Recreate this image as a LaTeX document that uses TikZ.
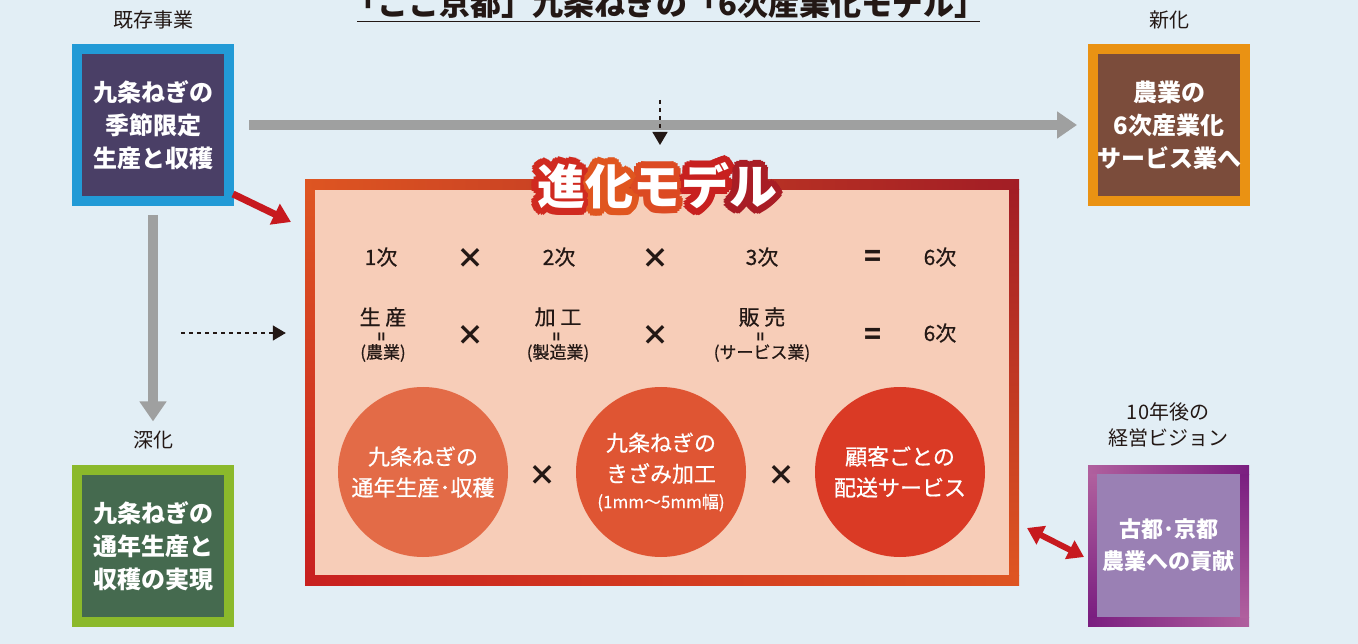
\documentclass[tikz,border=0pt]{standalone}
\usepackage{fontspec}
\setmainfont{Noto Sans CJK JP}
\newfontfamily\jpmed{Noto Sans CJK JP}[FakeBold=0.6]
\usetikzlibrary{arrows.meta, positioning}

\definecolor{bgblue}{HTML}{E2EEF5}
\definecolor{txtdark}{HTML}{231815}
\definecolor{arrowgray}{HTML}{9FA0A0}
\definecolor{arrowred}{HTML}{C7191F}
\definecolor{existout}{HTML}{229AD6}
\definecolor{existin}{HTML}{4A3F66}
\definecolor{newout}{HTML}{EA9213}
\definecolor{newin}{HTML}{7B4C3B}
\definecolor{deepout}{HTML}{8BB92B}
\definecolor{deepin}{HTML}{456A4F}
\definecolor{visionin}{HTML}{9A80B4}
\definecolor{vispink}{HTML}{B0609E}
\definecolor{visdark}{HTML}{7A1E80}
\definecolor{modelin}{HTML}{F7CDB8}
\definecolor{frameor}{HTML}{DE5522}
\definecolor{framered}{HTML}{C8201F}
\definecolor{framedr}{HTML}{A21D25}
\definecolor{circA}{HTML}{E36B47}
\definecolor{circB}{HTML}{DF5533}
\definecolor{circC}{HTML}{DA3A25}
\definecolor{evoA}{HTML}{D02A20}
\definecolor{evoB}{HTML}{E0561F}
\definecolor{evoC}{HTML}{DC4A22}
\definecolor{evoD}{HTML}{C8201F}
\definecolor{evoE}{HTML}{A81D25}

\begin{document}
\begin{tikzpicture}[
    x=1pt, y=-1pt,
    >=Triangle,
    lbl/.style={font=\fontsize{20}{26}\selectfont, text=txtdark, align=center},
    bizbox/.style={minimum width=152pt, minimum height=152pt, line width=10pt,
                   inner sep=0pt, align=center, text=white,
                   font=\bfseries\fontsize{24}{33}\selectfont},
    rowtxt/.style={font=\jpmed\fontsize{21}{24}\selectfont, text=txtdark},
    subtxt/.style={font=\jpmed\fontsize{17}{20}\selectfont, text=txtdark},
    eqbar/.style={font=\bfseries\fontsize{15}{15}\selectfont, text=txtdark, rotate=90, inner sep=0pt},
    timesym/.style={font=\bfseries\fontsize{28}{28}\selectfont, text=txtdark},
    circ/.style={circle, minimum size=170pt, inner sep=0pt, align=center, text=white,
                 font=\jpmed\fontsize{22}{31}\selectfont},
    evotxt/.style={font=\bfseries\fontsize{48}{48}\selectfont},
    grayarrow/.style={->, arrowgray, line width=9.5pt,
                      >={Triangle[width=26pt, length=20pt]}},
    redarrow/.style={->, arrowred, line width=7pt,
                     >={Triangle[width=22pt, length=18pt]}},
    dasharrow/.style={->, txtdark, line width=1.3pt, dash pattern=on 4pt off 4pt,
                      >={Triangle[width=15pt, length=13pt]}}
  ]
  \useasboundingbox (0,0) rectangle (1358,644);
  \fill[bgblue] (0,0) rectangle (1358,644);
  \clip (0,0) rectangle (1358,644);

  % Title (cut at the top edge)
  \node[font=\bfseries\fontsize{31}{31}\selectfont, text=txtdark, anchor=base,
        inner sep=0pt] (maintitle) at (666,16) {「ここ京都」九条ねぎの「6次産業化モデル」};
  \draw[line width=1.5pt, txtdark] (357,21.5) -- (980,21.5);

  % Existing business
  \node[lbl] (existlbl) at (153,20) {既存事業};
  \node[bizbox, draw=existout, fill=existin] (exist) at (153,125)
    {九条ねぎの\\季節限定\\生産と収穫};

  % New business
  \node[lbl] (newlbl) at (1169,20) {新化};
  \node[bizbox, draw=newout, fill=newin] (newbiz) at (1169,125)
    {農業の\\6次産業化\\サービス業へ};

  % Deepening
  \node[lbl] (deeplbl) at (153,440) {深化};
  \node[bizbox, draw=deepout, fill=deepin] (deep) at (153,546)
    {九条ねぎの\\通年生産と\\収穫の実現};

  % Vision (gradient frame)
  \node[lbl] (visionlbl) at (1168,425) {10年後の\\経営ビジョン};
  \shade[left color=vispink, right color=visdark] (1088,465) rectangle (1249,474);
  \shade[left color=visdark, right color=vispink] (1088,617) rectangle (1249,626);
  \shade[top color=vispink, bottom color=visdark] (1088,474) rectangle (1097,617);
  \shade[top color=visdark, bottom color=vispink] (1240,474) rectangle (1249,617);
  \node[minimum width=143pt, minimum height=143pt, inner sep=0pt, fill=visionin,
        align=center, text=white, font=\bfseries\fontsize{22}{32}\selectfont]
    (vision) at (1168.5,545.5) {古都･京都\\農業への貢献};

  % Evolution model frame
  \shade[left color=frameor, middle color=framered, right color=framedr] (305,180) rectangle (1019,190);
  \shade[top color=framedr, middle color=framered, bottom color=frameor] (1009,190) rectangle (1019,575);
  \shade[left color=framered, right color=frameor] (305,575) rectangle (1019,585);
  \shade[top color=frameor, bottom color=framered] (305,190) rectangle (315,575);
  \node[minimum width=694pt, minimum height=385pt, inner sep=0pt, fill=modelin]
    (model) at (662,382.5) {};

  % Model title with outline
  \foreach \r in {7,4.5,2} {
    \foreach \a in {0,22.5,...,337.5} {
      \node[evotxt, shift={(\a:\r)}] at (657,186)
        {\color{evoA}進\color{evoB}化\color{evoC}モ\color{evoD}デ\color{evoE}ル};
    }
  }
  \node[evotxt, text=white] (evo) at (657,186) {進化モデル};

  % Row 1
  \node[rowtxt] (r1a) at (381,257) {1次};
  \node[timesym] (r1x1) at (470,258) {×};
  \node[rowtxt] (r1b) at (559,257) {2次};
  \node[timesym] (r1x2) at (655,258) {×};
  \node[rowtxt] (r1c) at (762,257) {3次};
  \node[timesym] (r1eq) at (873,258) {=};
  \node[rowtxt] (r1d) at (940,257) {6次};

  % Row 2
  \node[rowtxt] (r2a) at (383,317) {生 産};
  \node[eqbar] at (383,337) {=};
  \node[subtxt] (r2asub) at (383,353) {(農業)};
  \node[timesym] (r2x1) at (470,335) {×};
  \node[rowtxt] (r2b) at (558,317) {加 工};
  \node[eqbar] at (558,337) {=};
  \node[subtxt] (r2bsub) at (558,353) {(製造業)};
  \node[timesym] (r2x2) at (655,335) {×};
  \node[rowtxt] (r2c) at (762,317) {販 売};
  \node[eqbar] at (762,337) {=};
  \node[subtxt] (r2csub) at (762,353) {(サービス業)};
  \node[timesym] (r2eq) at (873,336) {=};
  \node[rowtxt] (r2d) at (940,333) {6次};

  % Circles
  \node[circ, fill=circA] (ca) at (423,472) {九条ねぎの\\通年生産･収穫};
  \node[timesym] (cx1) at (542,475) {×};
  \node[circ, fill=circB] (cb) at (661,472)
    {九条ねぎの\\きざみ加工\\[-5pt]{\fontsize{17}{20}\selectfont (1mm〜5mm幅)}};
  \node[timesym] (cx2) at (781,475) {×};
  \node[circ, fill=circC] (cc) at (900,472) {顧客ごとの\\配送サービス};

  % Connectors
  \draw[grayarrow, shorten <=15pt, shorten >=11pt] (exist.east) -- (newbiz.west);
  \draw[grayarrow, shorten <=9pt, shorten >=6pt] (exist.south) -- (deeplbl.north);

  \coordinate (dtop) at (660,100);
  \coordinate (dtip) at (660,145);
  \draw[dasharrow] (dtop) -- (dtip);

  \coordinate (hstart) at (181,333);
  \draw[dasharrow, shorten >=29pt] (hstart) -- (hstart -| model.west);

  \coordinate (rstart) at (233,194);
  \coordinate (rtip) at (291,222);
  \draw[redarrow] (rstart) -- (rtip);

  \coordinate (dblA) at (1027,528);
  \coordinate (dblB) at (1084,557);
  \draw[redarrow, <->, line width=6pt, >={Triangle[width=20pt, length=16pt]}] (dblA) -- (dblB);
\end{tikzpicture}
\end{document}
